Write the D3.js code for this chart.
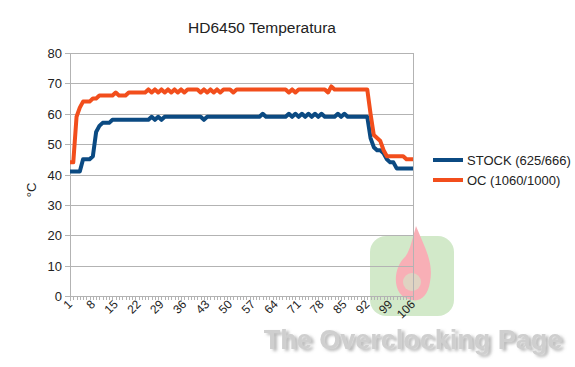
<!DOCTYPE html>
<html>
<head>
<meta charset="utf-8">
<script src="https://cdn.jsdelivr.net/npm/d3@7"></script>
<style>
  body { margin: 0; background: #fff; }
  text { font-family: "Liberation Sans", Arial, sans-serif; fill: #222; }
</style>
</head>
<body>
<div id="chart"></div>
<script>
// chart values
const categories = d3.range(1, 107);
const stockValues = [
  41, 41, 41, 41, 45, 45, 45, 46, 54, 56,
  57, 57, 57, 58, 58, 58, 58, 58, 58, 58,
  58, 58, 58, 58, 58, 59, 58, 59, 58, 59,
  59, 59, 59, 59, 59, 59, 59, 59, 59, 59,
  59, 58, 59, 59, 59, 59, 59, 59, 59, 59,
  59, 59, 59, 59, 59, 59, 59, 59, 59, 60,
  59, 59, 59, 59, 59, 59, 59, 60, 59, 60,
  59, 60, 59, 60, 59, 60, 59, 60, 59, 59,
  59, 59, 60, 59, 60, 59, 59, 59, 59, 59,
  59, 59, 52, 49, 48, 48, 47, 45, 44, 44,
  42, 42, 42, 42, 42, 42
];
const ocValues = [
  44, 44, 59, 62, 64, 64, 64, 65, 65, 66,
  66, 66, 66, 66, 67, 66, 66, 66, 67, 67,
  67, 67, 67, 67, 68, 67, 68, 67, 68, 67,
  68, 67, 68, 67, 68, 67, 68, 68, 68, 68,
  67, 68, 67, 68, 67, 68, 67, 68, 68, 68,
  67, 68, 68, 68, 68, 68, 68, 68, 68, 68,
  68, 68, 68, 68, 68, 68, 68, 67, 68, 67,
  68, 68, 68, 68, 68, 68, 68, 68, 68, 67,
  69, 68, 68, 68, 68, 68, 68, 68, 68, 68,
  68, 68, 60, 53, 52, 51, 48, 46, 46, 46,
  46, 46, 46, 45, 45, 45
];
const yTicks = [0, 10, 20, 30, 40, 50, 60, 70, 80];
const seriesNames = ['STOCK (625/666)', 'OC (1060/1000)'];
const seriesColors = ['#0b4a82', '#f24e1c'];

const width = 575, height = 367;
const margin = { left: 70, right: 162, top: 53, bottom: 71 };

const svg = d3.select('#chart')
    .append('svg')
    .attr('width', width)
    .attr('height', height);

// soft shadow for the watermark text
const shadow = svg.append('defs').append('filter')
    .attr('id', 'wmShadow')
    .attr('x', '-10%').attr('y', '-30%')
    .attr('width', '120%').attr('height', '160%');
shadow.append('feDropShadow')
    .attr('dx', 3).attr('dy', 2)
    .attr('stdDeviation', 1.5)
    .attr('flood-color', '#888')
    .attr('flood-opacity', 0.6);

const x = d3.scaleLinear()
    .domain([1, categories.length])
    .range([margin.left, width - margin.right]);

const y = d3.scaleLinear()
    .domain([0, 80])
    .range([height - margin.bottom, margin.top]);

// title
svg.append('text')
    .attr('x', 262)
    .attr('y', 33)
    .attr('text-anchor', 'middle')
    .style('font-size', '15.5px')
    .text('HD6450 Temperatura');

// watermark (behind the plot)
const wm = svg.append('g').attr('opacity', 0.45);
wm.append('rect')
    .attr('x', 370).attr('y', 236)
    .attr('width', 84).attr('height', 80)
    .attr('rx', 16)
    .attr('fill', '#9ccf8a');
wm.append('path')
    .attr('d', 'M412,300 C392,298 392,270 404,258 C410,252 412,240 416,226 C424,246 434,262 430,282 C428,296 420,302 412,300 Z')
    .attr('fill', '#f05060');
wm.append('circle')
    .attr('cx', 412).attr('cy', 282).attr('r', 9)
    .attr('fill', '#b9a07a');
svg.append('text')
    .attr('x', 413)
    .attr('y', 349)
    .attr('text-anchor', 'middle')
    .attr('filter', 'url(#wmShadow)')
    .style('font-size', '27px')
    .style('font-weight', 'bold')
    .style('fill', '#cfcfcf')
    .text('The Overclocking Page');

// gridlines
svg.append('g')
    .selectAll('line')
    .data(yTicks)
    .enter()
    .append('line')
    .attr('x1', margin.left - 5)
    .attr('x2', width - margin.right)
    .attr('y1', d => Math.round(y(d)) + 0.5)
    .attr('y2', d => Math.round(y(d)) + 0.5)
    .attr('stroke', '#b3b3b3')
    .attr('stroke-width', 1);

// y tick labels
svg.append('g')
    .selectAll('text')
    .data(yTicks)
    .enter()
    .append('text')
    .attr('x', margin.left - 8)
    .attr('y', d => y(d) + 5)
    .attr('text-anchor', 'end')
    .style('font-size', '13px')
    .text(d => d);

// axis frame
svg.append('line')
    .attr('x1', margin.left + 0.5).attr('x2', margin.left + 0.5)
    .attr('y1', margin.top).attr('y2', height - margin.bottom + 5)
    .attr('stroke', '#b3b3b3');
svg.append('line')
    .attr('x1', width - margin.right + 0.5).attr('x2', width - margin.right + 0.5)
    .attr('y1', margin.top).attr('y2', height - margin.bottom)
    .attr('stroke', '#b3b3b3');

// small ticks along the category axis
svg.append('g')
    .selectAll('line')
    .data(categories)
    .enter()
    .append('line')
    .attr('x1', d => Math.round(x(d)) + 0.5)
    .attr('x2', d => Math.round(x(d)) + 0.5)
    .attr('y1', height - margin.bottom)
    .attr('y2', height - margin.bottom + 4)
    .attr('stroke', '#b3b3b3');

// category labels, every 7th
svg.append('g')
    .selectAll('text')
    .data(categories.filter(d => (d - 1) % 7 === 0))
    .enter()
    .append('text')
    .attr('transform', d => `translate(${x(d) + 3},${height - margin.bottom + 9}) rotate(-45)`)
    .attr('text-anchor', 'end')
    .style('font-size', '12px')
    .text(d => d);

// y axis title
svg.append('text')
    .attr('transform', 'translate(36,190) rotate(-90)')
    .attr('text-anchor', 'middle')
    .style('font-size', '13px')
    .text('°C');

// series lines
const line = d3.line()
    .x((d, i) => x(categories[i]))
    .y(d => y(d));

[stockValues, ocValues].forEach((vals, k) => {
    svg.append('path')
        .datum(vals)
        .attr('d', line)
        .attr('fill', 'none')
        .attr('stroke', seriesColors[k])
        .attr('stroke-width', 4)
        .attr('stroke-linejoin', 'round');
});

// legend
const legend = svg.append('g')
    .selectAll('g')
    .data(seriesNames)
    .enter()
    .append('g')
    .attr('transform', (d, i) => `translate(433,${160 + i * 20})`);
legend.append('line')
    .attr('x1', 0).attr('x2', 30)
    .attr('stroke', (d, i) => seriesColors[i])
    .attr('stroke-width', 4);
legend.append('text')
    .attr('x', 34)
    .attr('y', 5)
    .style('font-size', '13px')
    .text(d => d);
</script>
</body>
</html>
